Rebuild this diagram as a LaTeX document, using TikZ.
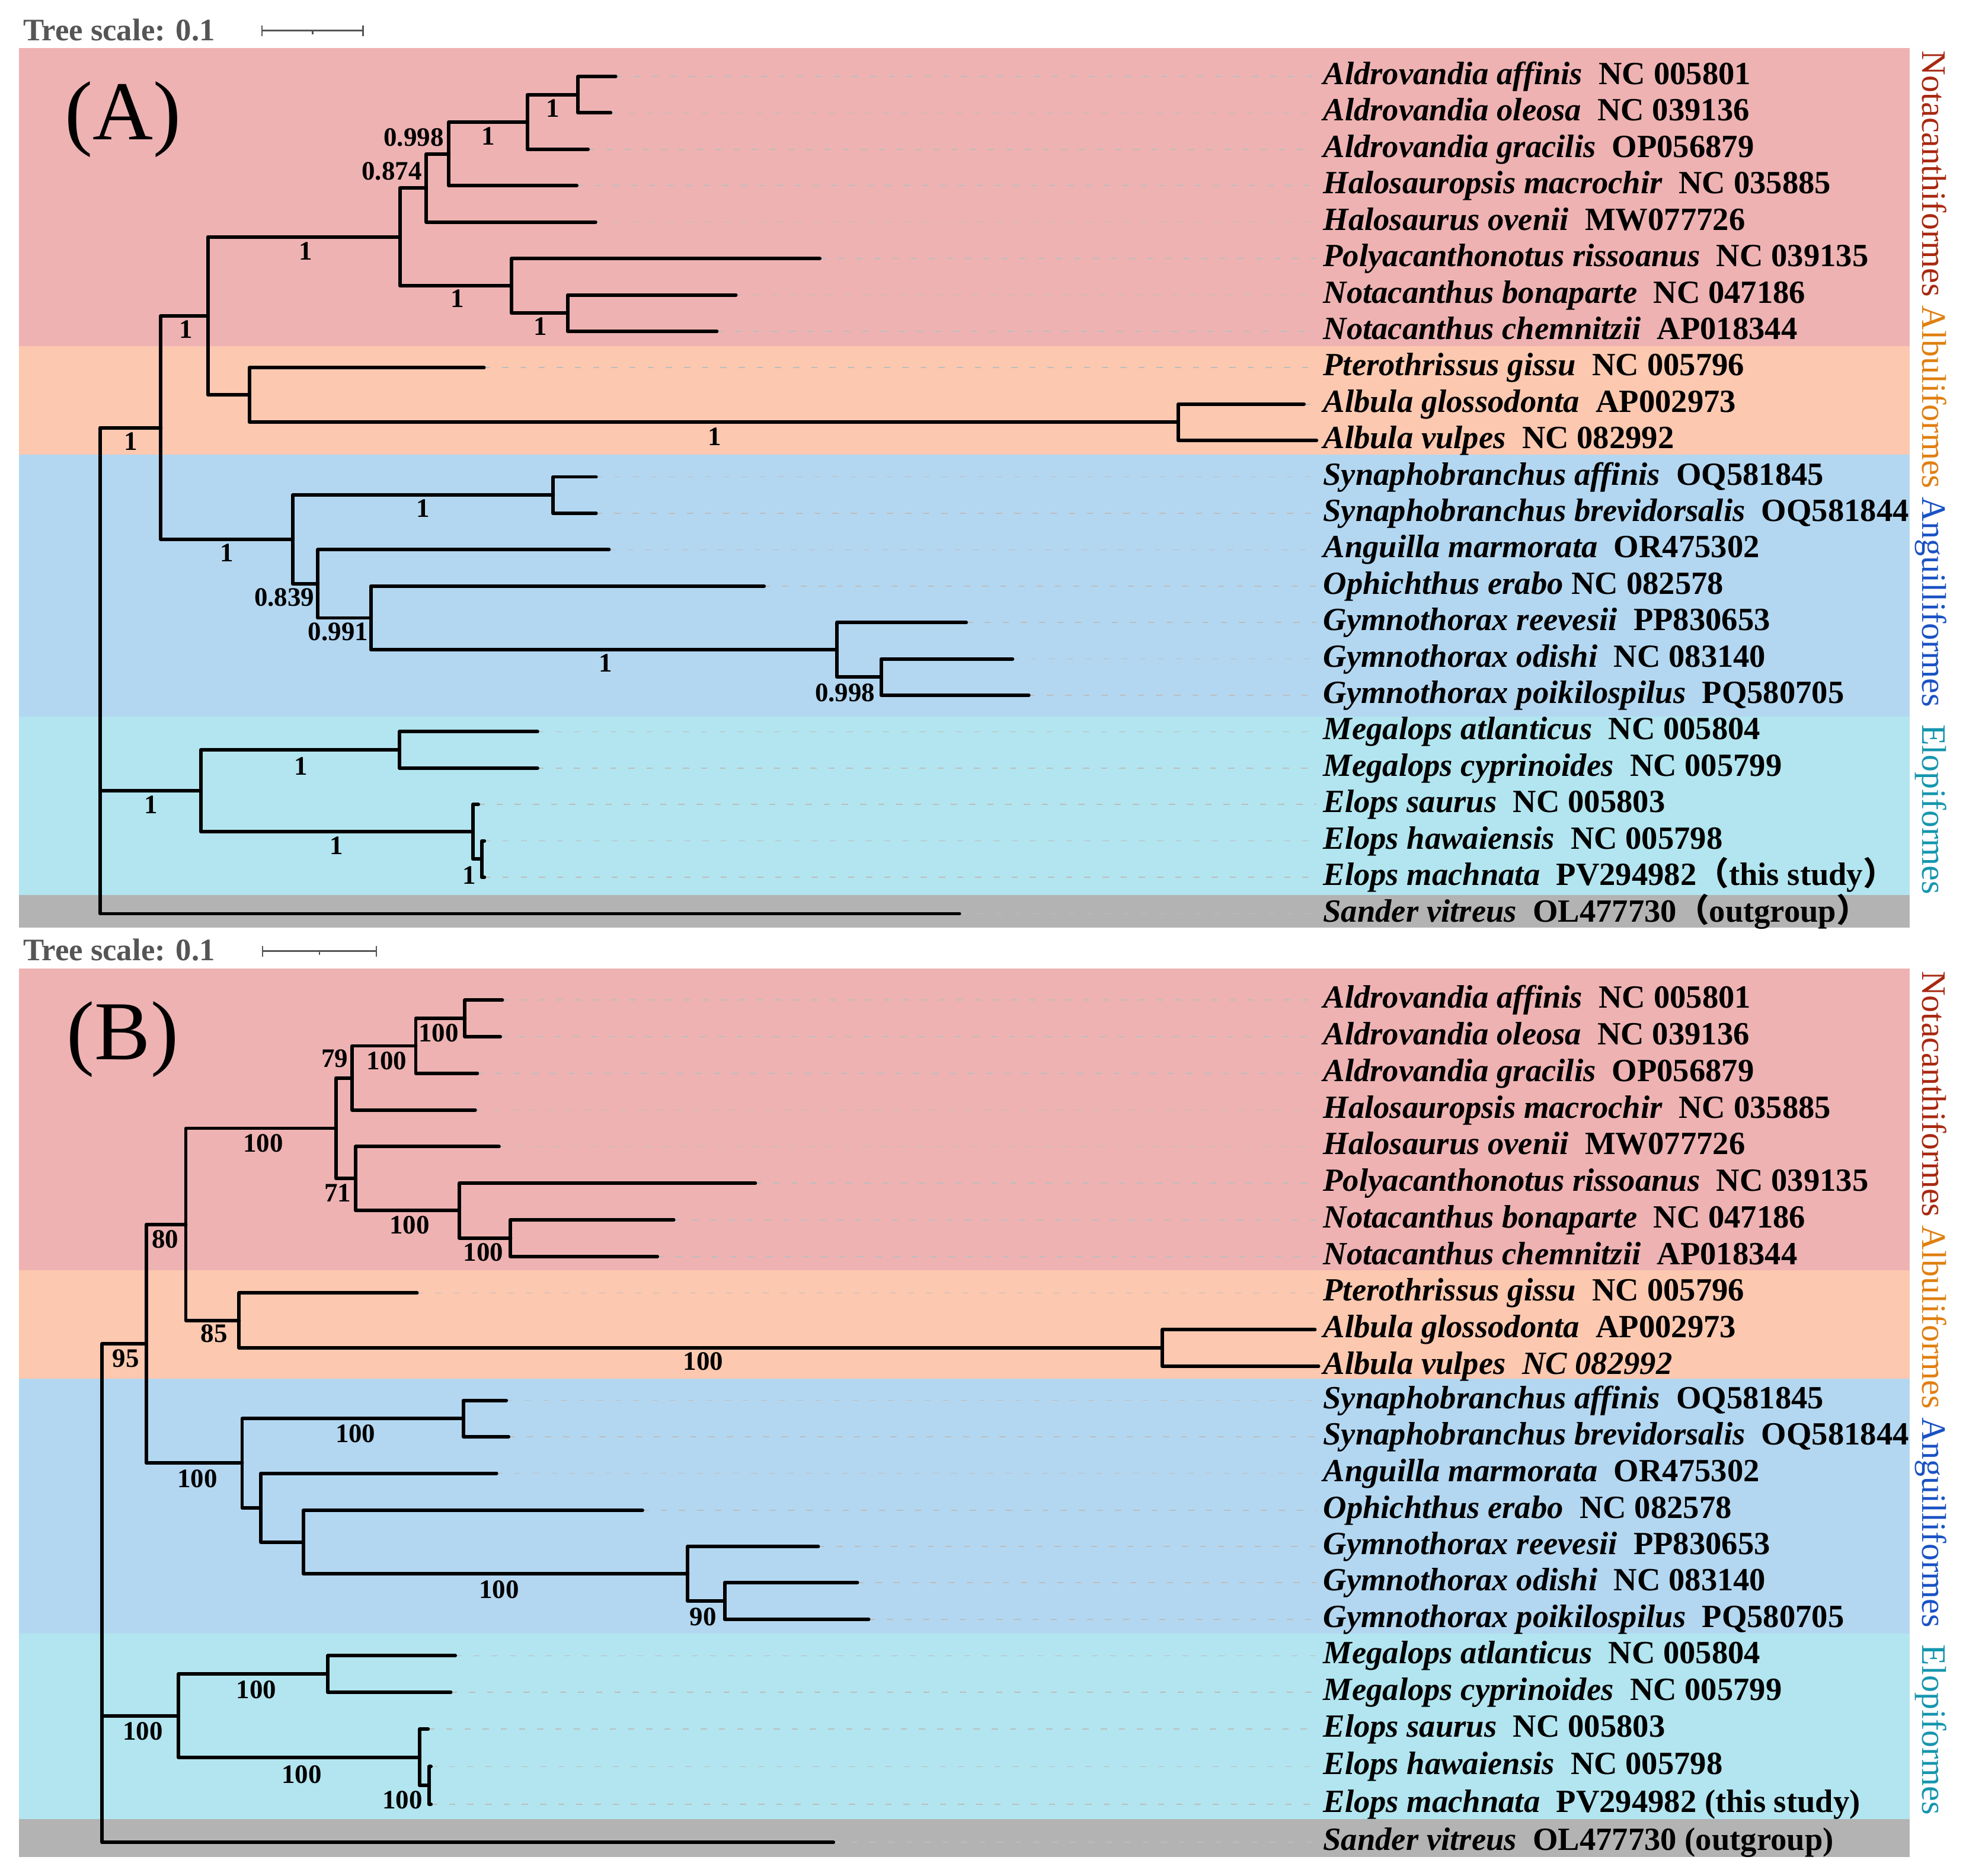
\documentclass[tikz,border=0pt]{standalone}
\usepackage{fontspec}
\setmainfont{Liberation Serif}
\newfontfamily\cjk{Noto Sans CJK SC}
\usetikzlibrary{calc}
\definecolor{bandpink}{HTML}{EEB2B2}
\definecolor{bandpeach}{HTML}{FCC8B0}
\definecolor{bandblue}{HTML}{B3D7F1}
\definecolor{bandcyan}{HTML}{B2E5EF}
\definecolor{bandgray}{HTML}{B3B3B3}
\definecolor{leadgray}{HTML}{BDBDBD}
\definecolor{scalegray}{HTML}{555555}
\definecolor{notc}{HTML}{A82810}
\definecolor{albc}{HTML}{E07F10}
\definecolor{angc}{HTML}{1A52C4}
\definecolor{eloc}{HTML}{1596AE}
\newcommand{\fwl}{{\cjk （}}
\newcommand{\fwr}{{\cjk ）}}
\begin{document}
\begin{tikzpicture}[x=0.02cm,y=-0.02cm,
  br/.style={line width=1.6pt,line cap=round,line join=round},
  leader/.style={draw=leadgray,line width=0.45pt,dash pattern=on 0.1cm off 0.19cm},
  sup/.style={inner sep=0pt,font=\fontsize{12.1}{14}\selectfont\bfseries},
  lab/.style={anchor=base west,inner sep=0pt,font=\fontsize{14.7}{17}\selectfont\bfseries},
  ord/.style={anchor=base west,inner sep=0pt,rotate=-90,font=\fontsize{15.6}{18}\selectfont},
  ttl/.style={anchor=base west,inner sep=0pt,text=scalegray,font=\fontsize{14.2}{17}\selectfont\bfseries},
  pan/.style={inner sep=0pt,font=\fontsize{38}{44}\selectfont},
  sbar/.style={draw=scalegray,line width=0.6pt}]

\useasboundingbox[fill=white] (0,0) rectangle (1568,1496);

% ================= PANEL A =================
\fill[bandpink]  (15,38.3)  rectangle (1523,276.3);
\fill[bandpeach] (15,276.3) rectangle (1523,362.8);
\fill[bandblue]  (15,362.8) rectangle (1523,571.7);
\fill[bandcyan]  (15,571.7) rectangle (1523,713.8);
\fill[bandgray]  (15,713.8) rectangle (1523,740);

\node[ttl] (tsA) at (18.2,32.3) {Tree scale: 0.1};
\draw[sbar] (209,24.4) -- (289.5,24.4);
\draw[sbar] (209,20.5) -- (209,28.7);
\draw[sbar] (289.5,20.5) -- (289.5,28.7);
\draw[sbar] (249.4,24.4) -- (249.4,27.3);

\node[pan] (panA) at (98,95.3) {(A)};

\node[ord] (ordA) at (1533.4,40) {\textcolor{notc}{Notacanthiformes} \textcolor{albc}{Albuliformes} \textcolor{angc}{Anguilliformes}\ \ \textcolor{eloc}{Elopiformes}};

% tips A
\coordinate (tA0) at (491,61.0);
\coordinate (tA1) at (487,90.0);
\coordinate (tA2) at (469,119.1);
\coordinate (tA3) at (460,148.1);
\coordinate (tA4) at (475,177.1);
\coordinate (tA5) at (653.8,206.2);
\coordinate (tA6) at (586.9,235.2);
\coordinate (tA7) at (571.7,264.2);
\coordinate (tA8) at (386,293.2);
\coordinate (tA9) at (1040,322.3);
\coordinate (tA10) at (1050,351.3);
\coordinate (tA11) at (475.4,380.3);
\coordinate (tA12) at (475.4,409.4);
\coordinate (tA13) at (485.7,438.4);
\coordinate (tA14) at (609.4,467.4);
\coordinate (tA15) at (770.6,496.5);
\coordinate (tA16) at (807.5,525.5);
\coordinate (tA17) at (820.5,554.5);
\coordinate (tA18) at (428.7,583.5);
\coordinate (tA19) at (428.7,612.6);
\coordinate (tA20) at (381.5,641.6);
\coordinate (tA21) at (386.3,670.6);
\coordinate (tA22) at (386.3,699.7);
\coordinate (tA23) at (765.2,728.7);

% labels A
\node[lab] (lA0) at (1055,67.4) {\textit{Aldrovandia affinis}\ \ NC 005801};
\node[lab] (lA1) at (1055,96.4) {\textit{Aldrovandia oleosa}\ \ NC 039136};
\node[lab] (lA2) at (1055,125.5) {\textit{Aldrovandia gracilis}\ \ OP056879};
\node[lab] (lA3) at (1055,154.5) {\textit{Halosauropsis macrochir}\ \ NC 035885};
\node[lab] (lA4) at (1055,183.5) {\textit{Halosaurus ovenii}\ \ MW077726};
\node[lab] (lA5) at (1055,212.6) {\textit{Polyacanthonotus rissoanus}\ \ NC 039135};
\node[lab] (lA6) at (1055,241.6) {\textit{Notacanthus bonaparte}\ \ NC 047186};
\node[lab] (lA7) at (1055,270.6) {\textit{Notacanthus chemnitzii}\ \ AP018344};
\node[lab] (lA8) at (1055,299.6) {\textit{Pterothrissus gissu}\ \ NC 005796};
\node[lab] (lA9) at (1055,328.7) {\textit{Albula glossodonta}\ \ AP002973};
\node[lab] (lA10) at (1055,357.7) {\textit{Albula vulpes}\ \ NC 082992};
\node[lab] (lA11) at (1055,386.7) {\textit{Synaphobranchus affinis}\ \ OQ581845};
\node[lab] (lA12) at (1055,415.8) {\textit{Synaphobranchus brevidorsalis}\ \ OQ581844};
\node[lab] (lA13) at (1055,444.8) {\textit{Anguilla marmorata}\ \ OR475302};
\node[lab] (lA14) at (1055,473.8) {\textit{Ophichthus erabo} NC 082578};
\node[lab] (lA15) at (1055,502.9) {\textit{Gymnothorax reevesii}\ \ PP830653};
\node[lab] (lA16) at (1055,531.9) {\textit{Gymnothorax odishi}\ \ NC 083140};
\node[lab] (lA17) at (1055,560.9) {\textit{Gymnothorax poikilospilus}\ \ PQ580705};
\node[lab] (lA18) at (1055,589.9) {\textit{Megalops atlanticus}\ \ NC 005804};
\node[lab] (lA19) at (1055,619.0) {\textit{Megalops cyprinoides}\ \ NC 005799};
\node[lab] (lA20) at (1055,648.0) {\textit{Elops saurus}\ \ NC 005803};
\node[lab] (lA21) at (1055,677.0) {\textit{Elops hawaiensis}\ \ NC 005798};
\node[lab] (lA22) at (1055,706.1) {\textit{Elops machnata}\ \ PV294982\fwl this study\fwr};
\node[lab] (lA23) at (1055,735.1) {\textit{Sander vitreus}\ \ OL477730\fwl outgroup\fwr};

\foreach \i in {0,...,23} \draw[leader] (tA\i) -- ([xshift=-0.1cm]tA\i -| lA\i.west);

% internal nodes A
\coordinate (nA1) at (461,75.5);
\coordinate (nA2) at (420.5,97.3);
\coordinate (nA3) at (358,122.7);
\coordinate (nA4) at (340,149.9);
\coordinate (nA5) at (452.7,249.7);
\coordinate (nA6) at (407.9,227.95);
\coordinate (nA7) at (319,188.9);
\coordinate (nA8) at (939.7,336.8);
\coordinate (nA9) at (199,315);
\coordinate (nA10) at (165.8,252);
\coordinate (nA11) at (441.2,394.85);
\coordinate (nA12) at (702.8,540);
\coordinate (nA13) at (667.5,518.2);
\coordinate (nA14) at (295.8,492.8);
\coordinate (nA15) at (253.5,465.6);
\coordinate (nA16) at (233.3,430.2);
\coordinate (nA17) at (128.3,341.1);
\coordinate (nA18) at (318.6,598);
\coordinate (nA19) at (384.2,685.1);
\coordinate (nA20) at (377.2,663.4);
\coordinate (nA21) at (160.1,630.7);
\coordinate (rA) at (79.8,630.7);

\draw[br] (nA1) |- (tA0) (nA1) |- (tA1);
\draw[br] (nA2) |- (nA1) (nA2) |- (tA2);
\draw[br] (nA3) |- (nA2) (nA3) |- (tA3);
\draw[br] (nA4) |- (nA3) (nA4) |- (tA4);
\draw[br] (nA5) |- (tA6) (nA5) |- (tA7);
\draw[br] (nA6) |- (tA5) (nA6) |- (nA5);
\draw[br] (nA7) |- (nA4) (nA7) |- (nA6);
\draw[br] (nA8) |- (tA9) (nA8) |- (tA10);
\draw[br] (nA9) |- (tA8) (nA9) |- (nA8);
\draw[br] (nA10) |- (nA7) (nA10) |- (nA9);
\draw[br] (nA11) |- (tA11) (nA11) |- (tA12);
\draw[br] (nA12) |- (tA16) (nA12) |- (tA17);
\draw[br] (nA13) |- (tA15) (nA13) |- (nA12);
\draw[br] (nA14) |- (tA14) (nA14) |- (nA13);
\draw[br] (nA15) |- (tA13) (nA15) |- (nA14);
\draw[br] (nA16) |- (nA11) (nA16) |- (nA15);
\draw[br] (nA17) |- (nA10) (nA17) |- (nA16);
\draw[br] (nA18) |- (tA18) (nA18) |- (tA19);
\draw[br] (nA19) |- (tA21) (nA19) |- (tA22);
\draw[br] (nA20) |- (tA20) (nA20) |- (nA19);
\draw[br] (nA21) |- (nA18) (nA21) |- (nA20);
\draw[br] (rA) |- (nA17) (rA) |- (nA21) (rA) |- (tA23);

% supports A
\node[sup] (sA3) at (330,109.5) {0.998};
\node[sup] (sA2) at (389.6,108.5) {1};
\node[sup] (sA1) at (441,86.5) {1};
\node[sup] (sA4) at (312.5,136.4) {0.874};
\node[sup] (sA7) at (243.7,200.3) {1};
\node[sup] (sA6) at (364.8,238.3) {1};
\node[sup] (sA5) at (431,260.5) {1};
\node[sup] (sA10) at (148.2,262.6) {1};
\node[sup] (sA17) at (104.5,352.2) {1};
\node[sup] (sA8) at (570,348) {1};
\node[sup] (sA11) at (337.5,405.6) {1};
\node[sup] (sA16) at (180.7,441) {1};
\node[sup] (sA15) at (226.8,476.5) {0.839};
\node[sup] (sA14) at (269.7,504) {0.991};
\node[sup] (sA13) at (483,528.9) {1};
\node[sup] (sA12) at (674,552.5) {0.998};
\node[sup] (sA18) at (239.9,611) {1};
\node[sup] (sA21) at (120.5,641.7) {1};
\node[sup] (sA20) at (268.6,674.5) {1};
\node[sup] (sA19) at (374.4,698) {1};

% ================= PANEL B =================
\fill[bandpink]  (15,772.3)  rectangle (1523,1013);
\fill[bandpeach] (15,1013)   rectangle (1523,1099.5);
\fill[bandblue]  (15,1099.5) rectangle (1523,1302.8);
\fill[bandcyan]  (15,1302.8) rectangle (1523,1450.8);
\fill[bandgray]  (15,1450.8) rectangle (1523,1481);

\node[ttl] (tsB) at (18.2,766) {Tree scale: 0.1};
\draw[sbar] (209.5,758.5) -- (300,758.5);
\draw[sbar] (209.5,754.6) -- (209.5,762.8);
\draw[sbar] (300,754.6) -- (300,762.8);
\draw[sbar] (254.7,758.5) -- (254.7,761.4);

\node[pan] (panB) at (97.9,828.7) {(B)};

\node[ord] (ordB) at (1533.4,774) {\textcolor{notc}{Notacanthiformes} \textcolor{albc}{Albuliformes} \textcolor{angc}{Anguilliformes}\ \ \textcolor{eloc}{Elopiformes}};

% tips B
\coordinate (tB0) at (400.6,797.6);
\coordinate (tB1) at (399,826.8);
\coordinate (tB2) at (380.7,856.0);
\coordinate (tB3) at (379,885.2);
\coordinate (tB4) at (398,914.4);
\coordinate (tB5) at (602.4,943.6);
\coordinate (tB6) at (537.3,972.8);
\coordinate (tB7) at (524.3,1002.0);
\coordinate (tB8) at (332.6,1031.2);
\coordinate (tB9) at (1048.7,1060.4);
\coordinate (tB10) at (1051.6,1089.6);
\coordinate (tB11) at (403.8,1116.8);
\coordinate (tB12) at (405.6,1145.8);
\coordinate (tB13) at (396,1175.0);
\coordinate (tB14) at (512.4,1204.5);
\coordinate (tB15) at (652.6,1233.4);
\coordinate (tB16) at (683.8,1262.0);
\coordinate (tB17) at (692.8,1291.5);
\coordinate (tB18) at (363.1,1320.5);
\coordinate (tB19) at (359.5,1349.7);
\coordinate (tB20) at (341.4,1379.0);
\coordinate (tB21) at (343.7,1408.9);
\coordinate (tB22) at (343.7,1438.9);
\coordinate (tB23) at (664.7,1469.3);

% labels B
\node[lab] (lB0) at (1055,804.0) {\textit{Aldrovandia affinis}\ \ NC 005801};
\node[lab] (lB1) at (1055,833.2) {\textit{Aldrovandia oleosa}\ \ NC 039136};
\node[lab] (lB2) at (1055,862.4) {\textit{Aldrovandia gracilis}\ \ OP056879};
\node[lab] (lB3) at (1055,891.6) {\textit{Halosauropsis macrochir}\ \ NC 035885};
\node[lab] (lB4) at (1055,920.8) {\textit{Halosaurus ovenii}\ \ MW077726};
\node[lab] (lB5) at (1055,950.0) {\textit{Polyacanthonotus rissoanus}\ \ NC 039135};
\node[lab] (lB6) at (1055,979.2) {\textit{Notacanthus bonaparte}\ \ NC 047186};
\node[lab] (lB7) at (1055,1008.4) {\textit{Notacanthus chemnitzii}\ \ AP018344};
\node[lab] (lB8) at (1055,1037.6) {\textit{Pterothrissus gissu}\ \ NC 005796};
\node[lab] (lB9) at (1055,1066.8) {\textit{Albula glossodonta}\ \ AP002973};
\node[lab] (lB10) at (1055,1096.0) {\textit{Albula vulpes\ \ NC 082992}};
\node[lab] (lB11) at (1055,1123.2) {\textit{Synaphobranchus affinis}\ \ OQ581845};
\node[lab] (lB12) at (1055,1152.2) {\textit{Synaphobranchus brevidorsalis}\ \ OQ581844};
\node[lab] (lB13) at (1055,1181.4) {\textit{Anguilla marmorata}\ \ OR475302};
\node[lab] (lB14) at (1055,1210.9) {\textit{Ophichthus erabo}\ \ NC 082578};
\node[lab] (lB15) at (1055,1239.8) {\textit{Gymnothorax reevesii}\ \ PP830653};
\node[lab] (lB16) at (1055,1268.4) {\textit{Gymnothorax odishi}\ \ NC 083140};
\node[lab] (lB17) at (1055,1297.9) {\textit{Gymnothorax poikilospilus}\ \ PQ580705};
\node[lab] (lB18) at (1055,1326.9) {\textit{Megalops atlanticus}\ \ NC 005804};
\node[lab] (lB19) at (1055,1356.1) {\textit{Megalops cyprinoides}\ \ NC 005799};
\node[lab] (lB20) at (1055,1385.4) {\textit{Elops saurus}\ \ NC 005803};
\node[lab] (lB21) at (1055,1415.3) {\textit{Elops hawaiensis}\ \ NC 005798};
\node[lab] (lB22) at (1055,1445.3) {\textit{Elops machnata}\ \ PV294982 (this study)};
\node[lab] (lB23) at (1055,1475.7) {\textit{Sander vitreus}\ \ OL477730 (outgroup)};

\foreach \i in {0,...,23} \draw[leader] (tB\i) -- ([xshift=-0.1cm]tB\i -| lB\i.west);

% internal nodes B
\coordinate (nB1) at (370.8,812.2);
\coordinate (nB2) at (331.6,834.1);
\coordinate (nB3) at (280.9,859.65);
\coordinate (nB4) at (407.2,987.4);
\coordinate (nB5) at (366.4,965.5);
\coordinate (nB6) at (283.5,939.95);
\coordinate (nB7) at (268,899.8);
\coordinate (nB8) at (927,1075);
\coordinate (nB9) at (190.7,1053.1);
\coordinate (nB10) at (148.2,976.45);
\coordinate (nB11) at (369.5,1131.3);
\coordinate (nB12) at (577.9,1276.75);
\coordinate (nB13) at (548.5,1255.1);
\coordinate (nB14) at (241.9,1229.8);
\coordinate (nB15) at (208,1202.4);
\coordinate (nB16) at (193.1,1166.85);
\coordinate (nB17) at (116.7,1071.65);
\coordinate (nB18) at (261.4,1335.1);
\coordinate (nB19) at (342.3,1423.9);
\coordinate (nB20) at (334.6,1401.45);
\coordinate (nB21) at (142.4,1368.3);
\coordinate (rB) at (81.4,1368.3);

\draw[br] (nB1) |- (tB0) (nB1) |- (tB1);
\draw[br] (nB2) |- (nB1) (nB2) |- (tB2);
\draw[br] (nB3) |- (nB2) (nB3) |- (tB3);
\draw[br] (nB4) |- (tB6) (nB4) |- (tB7);
\draw[br] (nB5) |- (tB5) (nB5) |- (nB4);
\draw[br] (nB6) |- (tB4) (nB6) |- (nB5);
\draw[br] (nB7) |- (nB3) (nB7) |- (nB6);
\draw[br] (nB8) |- (tB9) (nB8) |- (tB10);
\draw[br] (nB9) |- (tB8) (nB9) |- (nB8);
\draw[br] (nB10) |- (nB7) (nB10) |- (nB9);
\draw[br] (nB11) |- (tB11) (nB11) |- (tB12);
\draw[br] (nB12) |- (tB16) (nB12) |- (tB17);
\draw[br] (nB13) |- (tB15) (nB13) |- (nB12);
\draw[br] (nB14) |- (tB14) (nB14) |- (nB13);
\draw[br] (nB15) |- (tB13) (nB15) |- (nB14);
\draw[br] (nB16) |- (nB11) (nB16) |- (nB15);
\draw[br] (nB17) |- (nB10) (nB17) |- (nB16);
\draw[br] (nB18) |- (tB18) (nB18) |- (tB19);
\draw[br] (nB19) |- (tB21) (nB19) |- (tB22);
\draw[br] (nB20) |- (tB20) (nB20) |- (nB19);
\draw[br] (nB21) |- (nB18) (nB21) |- (nB20);
\draw[br] (rB) |- (nB17) (rB) |- (nB21) (rB) |- (tB23);

% supports B
\node[sup] (sB1) at (349.9,824) {100};
\node[sup] (sB2) at (308.4,846.1) {100};
\node[sup] (sB3) at (267,844) {79};
\node[sup] (sB7) at (209.9,911.6) {100};
\node[sup] (sB6) at (269.3,951.6) {71};
\node[sup] (sB5) at (326.7,977) {100};
\node[sup] (sB4) at (385.4,998.5) {100};
\node[sup] (sB10) at (131.7,988.5) {80};
\node[sup] (sB9) at (170.8,1063.5) {85};
\node[sup] (sB8) at (560.9,1085.8) {100};
\node[sup] (sB17) at (100.4,1083.5) {95};
\node[sup] (sB11) at (283.5,1143.5) {100};
\node[sup] (sB16) at (157.4,1179.4) {100};
\node[sup] (sB13) at (398,1267.5) {100};
\node[sup] (sB12) at (560.8,1289.6) {90};
\node[sup] (sB18) at (204.4,1347.4) {100};
\node[sup] (sB21) at (114,1380.5) {100};
\node[sup] (sB20) at (240.6,1415) {100};
\node[sup] (sB19) at (321,1435.6) {100};

\end{tikzpicture}
\end{document}
